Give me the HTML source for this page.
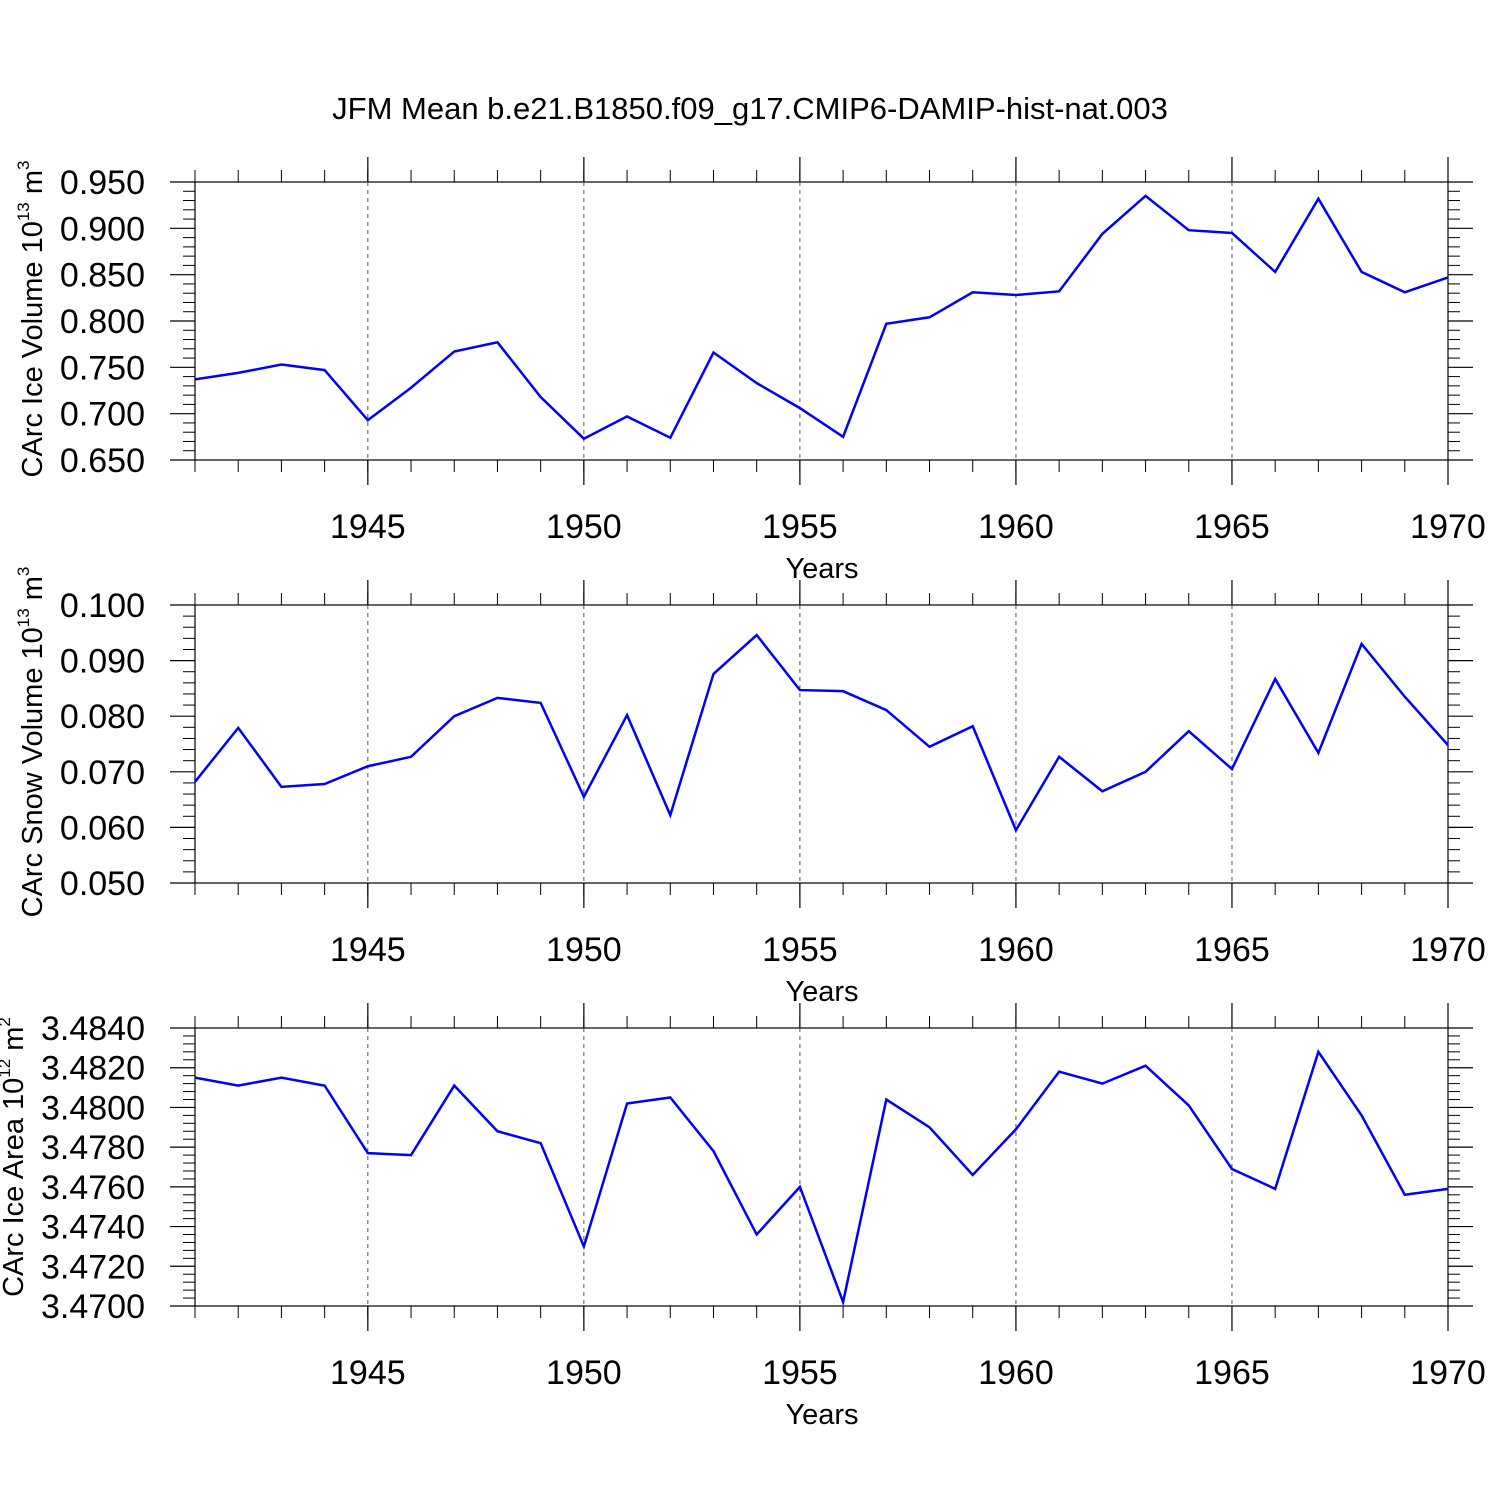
<!DOCTYPE html>
<html><head><meta charset="utf-8"><style>body{margin:0;background:#fff}svg{display:block}</style></head>
<body>
<svg id="chart" width="1500" height="1500" xmlns="http://www.w3.org/2000/svg" font-family="Liberation Sans, sans-serif">
<text x="750" y="119" font-size="31" text-anchor="middle">JFM Mean b.e21.B1850.f09_g17.CMIP6-DAMIP-hist-nat.003</text>
</svg>
<script>
const years=[1941,1942,1943,1944,1945,1946,1947,1948,1949,1950,1951,1952,1953,1954,1955,1956,1957,1958,1959,1960,1961,1962,1963,1964,1965,1966,1967,1968,1969,1970];
const iceVolume=[.737,.744,.753,.747,.693,.728,.767,.777,.718,.673,.697,.674,.766,.733,.706,.675,.797,.804,.831,.828,.832,.894,.935,.898,.895,.853,.932,.853,.831,.847];
const snowVolume=[.0682,.0779,.0673,.0678,.0710,.0727,.0800,.0833,.0824,.0655,.0802,.0622,.0876,.0946,.0847,.0845,.0811,.0745,.0782,.0595,.0727,.0665,.0700,.0773,.0705,.0867,.0734,.0930,.0835,.0748];
const iceArea=[3.4815,3.4811,3.4815,3.4811,3.4777,3.4776,3.4811,3.4788,3.4782,3.4730,3.4802,3.4805,3.4778,3.4736,3.4760,3.4702,3.4804,3.4790,3.4766,3.4789,3.4818,3.4812,3.4821,3.4801,3.4769,3.4759,3.4828,3.4796,3.4756,3.4759];
const xTicks=[1945,1950,1955,1960,1965,1970];
const iceVolTicks=[0.650,0.700,0.750,0.800,0.850,0.900,0.950];
const snowTicks=[0.050,0.060,0.070,0.080,0.090,0.100];
const areaTicks=[3.4700,3.4720,3.4740,3.4760,3.4780,3.4800,3.4820,3.4840];
const svg=document.getElementById('chart');
const NS='http://www.w3.org/2000/svg';
const X0=195,X1=1448,xmin=1941,xmax=1970;
const xs=v=>X0+(v-xmin)/(xmax-xmin)*(X1-X0);
function mk(tag,attrs,parent){const e=document.createElementNS(NS,tag);for(const k in attrs)e.setAttribute(k,attrs[k]);(parent||svg).appendChild(e);return e;}
function panel(top,bot,vals,ticks,dec,lab,exp,unitExp,name,titleX,titleDy){
 const g=mk('g',{});
 
 
 const ymin=ticks[0],ymax=ticks[ticks.length-1];
 const ys=v=>bot-(v-ymin)/(ymax-ymin)*(bot-top);
 mk('rect',{x:X0,y:top,width:X1-X0,height:bot-top,fill:'none',stroke:'#000','stroke-width':1.2},g);
 xTicks.forEach(t=>{const x=xs(t);
  if(t<xmax) mk('line',{x1:x,x2:x,y1:top,y2:bot,stroke:'#555','stroke-dasharray':'4,4','stroke-width':1},g);
  mk('line',{x1:x,x2:x,y1:top-25,y2:top,stroke:'#000','stroke-width':1.2},g);
  mk('line',{x1:x,x2:x,y1:bot,y2:bot+25,stroke:'#000','stroke-width':1.2},g);
  const tx=mk('text',{x:x,y:bot+78,'font-size':34,'text-anchor':'middle'},g);tx.textContent=t;
  
  
 });
 for(let yv=xmin;yv<=xmax;yv++){const x=xs(yv);
  mk('line',{x1:x,x2:x,y1:top-12,y2:top,stroke:'#000'},g);
  mk('line',{x1:x,x2:x,y1:bot,y2:bot+12,stroke:'#000'},g);}
 const step=ticks[1]-ticks[0];
 for(let i=0;i<ticks.length;i++){const y=ys(ticks[i]);
  mk('line',{x1:X0-25,x2:X0,y1:y,y2:y,stroke:'#000','stroke-width':1.2},g);
  mk('line',{x1:X1,x2:X1+25,y1:y,y2:y,stroke:'#000','stroke-width':1.2},g);
  const tl=mk('text',{x:145,y:y+12,'font-size':34,'text-anchor':'end'},g);tl.textContent=ticks[i].toFixed(dec);
  
  
  if(i<ticks.length-1)for(let j=1;j<5;j++){const yy=ys(ticks[i]+step*j/5);
   mk('line',{x1:X0-12,x2:X0,y1:yy,y2:yy,stroke:'#000'},g);
   mk('line',{x1:X1,x2:X1+12,y1:yy,y2:yy,stroke:'#000'},g);}
 }
 const yl=mk('text',{transform:`translate(${titleX},${(top+bot)/2+titleDy}) rotate(-90)`,'font-size':29,'text-anchor':'middle'},g);
 
 
 yl.innerHTML=`${lab} 10<tspan font-size="17" dy="-13">${exp}</tspan><tspan dy="13"> m</tspan><tspan font-size="17" dy="-13">${unitExp}</tspan>`;
 const xl=mk('text',{x:822,y:bot+118,'font-size':29,'text-anchor':'middle'},g);xl.textContent='Years';
 
 
 const p=mk('polyline',{points:vals.map((v,i)=>xs(years[i])+','+ys(v)).join(' '),fill:'none',stroke:'#0000ff','stroke-width':2.5},g);
 
 
}
panel(182,460,iceVolume,iceVolTicks,3,'CArc Ice Volume','13','3','ice-volume',42,-2);
panel(605,883,snowVolume,snowTicks,3,'CArc Snow Volume','13','3','snow-volume',42,-2);
panel(1028,1306,iceArea,areaTicks,4,'CArc Ice Area','12','2','ice-area',23,-10);
</script>
</body></html>
